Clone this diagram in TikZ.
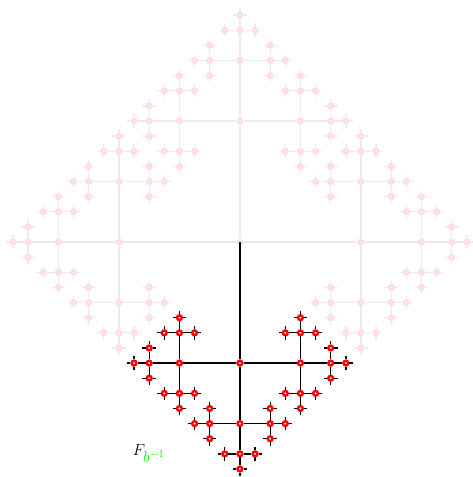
\documentclass[tikz,border=0pt]{standalone}
\usetikzlibrary{calc}

\tikzset{
  faintdot/.style={circle, inner sep=0pt, minimum size=3.6pt, line width=1.8pt, draw=red!13, fill=red!8},
  faintline/.style={gray!16, line width=1pt},
  reddot/.style={circle, inner sep=0pt, minimum size=3.6pt, line width=1.8pt, draw=red, fill=white},
  blackline/.style={black, line width=1pt},
}

% tree with halving arms: #1 root, #2 first arms, #3 dot style, #4 line style
\newcommand\fractree[4]{%
\foreach \da in {#2} {
  \pgfmathtruncatemacro\anga{90*\da}
  \node[#3] (#1\da) at ($(#1)+(\anga:8)$) {};
  \draw[#4] (#1) -- (#1\da);
  \foreach \db in {0,1,2} {
    \pgfmathtruncatemacro\angb{\anga+90*(\db-1)}
    \node[#3] (#1\da\db) at ($(#1\da)+(\angb:4)$) {};
    \draw[#4] (#1\da) -- (#1\da\db);
    \foreach \dc in {0,1,2} {
      \pgfmathtruncatemacro\angc{\angb+90*(\dc-1)}
      \node[#3] (#1\da\db\dc) at ($(#1\da\db)+(\angc:2)$) {};
      \draw[#4] (#1\da\db) -- (#1\da\db\dc);
      \foreach \dd in {0,1,2} {
        \pgfmathtruncatemacro\angd{\angc+90*(\dd-1)}
        \node[#3] (#1\da\db\dc\dd) at ($(#1\da\db\dc)+(\angd:1)$) {};
        \draw[#4] (#1\da\db\dc) -- (#1\da\db\dc\dd);
        % small cross at the tips
        \draw[#4] (#1\da\db\dc\dd) -- +(\angd-90:0.45)
                  (#1\da\db\dc\dd) -- +(\angd:0.45)
                  (#1\da\db\dc\dd) -- +(\angd+90:0.45);
      }
    }
  }
}}

\begin{document}
\begin{tikzpicture}[x=0.4cm, y=0.4cm]

\useasboundingbox (-15.86,-15.53) rectangle (15.40,16.0);

% whole set, faint
\node[faintdot] (t) at (0,0) {};
\fractree{t}{0,1,2}{faintdot}{faintline}

% the part F_{b^{-1}}
\coordinate (b) at (0,0);
\fractree{b}{3}{reddot}{blackline}

% Label
\node[font=\large] (flabel) at (-6,-14) {$F_{\color{green}\textstyle b^{-1}}$};

\end{tikzpicture}
\end{document}
